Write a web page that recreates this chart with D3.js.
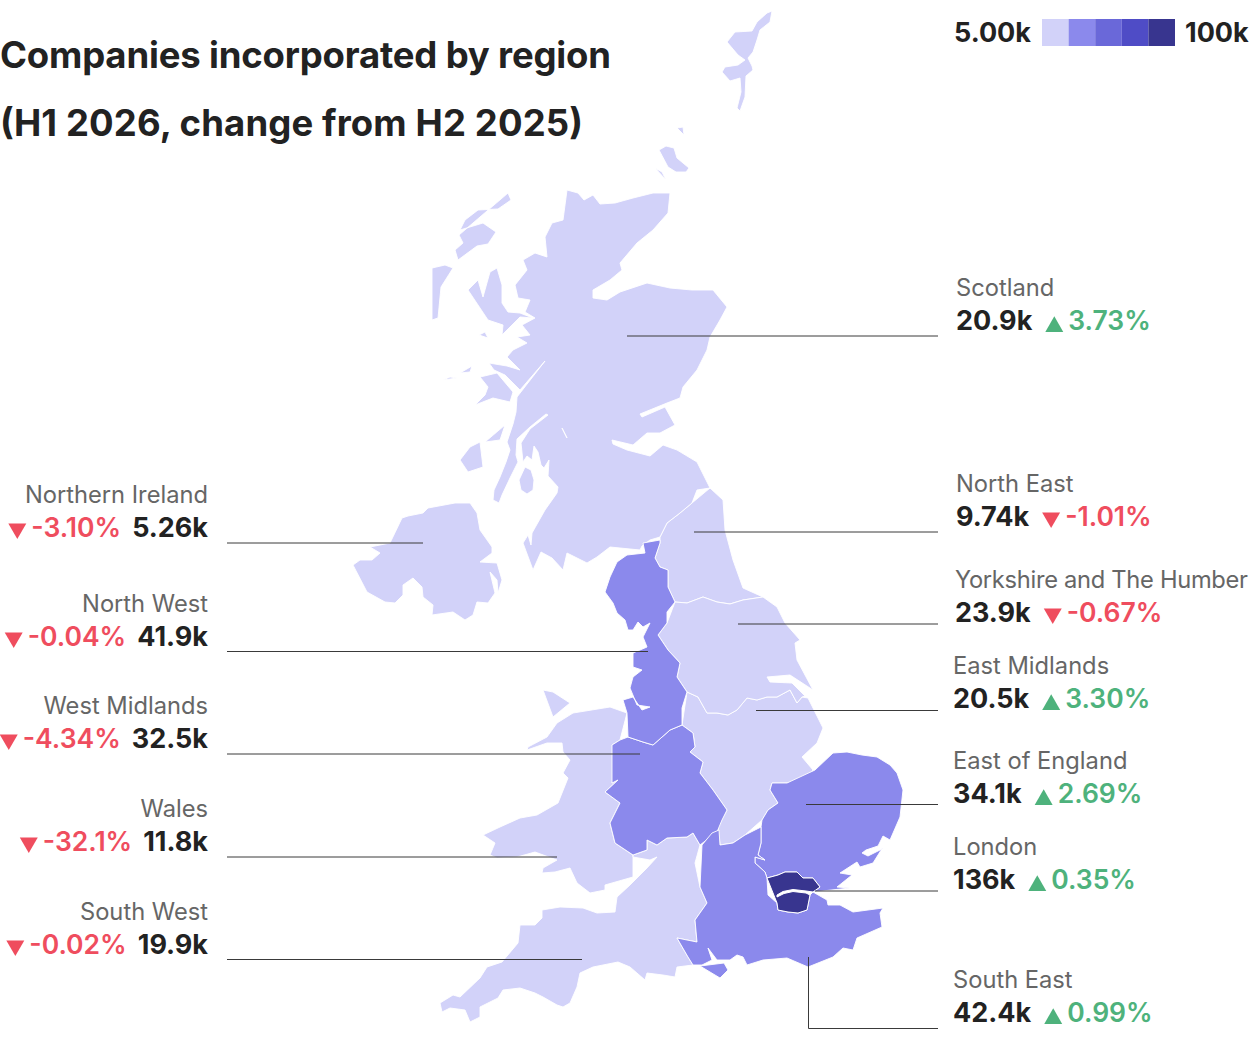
<!DOCTYPE html>
<html>
<head>
<meta charset="utf-8">
<script src="https://cdn.jsdelivr.net/npm/d3@7"></script>
<style>
  html, body { margin: 0; padding: 0; background: #fff; }
  svg { display: block; }
  text { font-family: Inter, "Noto Sans", sans-serif; }
</style>
</head>
<body>
<svg id="chart" width="1249" height="1038"></svg>
<script>
// Values
var regionNames = ['Scotland', 'North East', 'Yorkshire and The Humber', 'East Midlands', 'East of England', 'London', 'South East',
                   'Northern Ireland', 'North West', 'West Midlands', 'Wales', 'South West'];
var companies = [20900, 9740, 23900, 20500, 34100, 136000, 42400, 5260, 41900, 32500, 11800, 19900];
var changes = [3.73, -1.01, -0.67, 3.30, 2.69, 0.35, 0.99, -3.10, -0.04, -4.34, -32.1, -0.02];

var titleLines = ['Companies incorporated by region', '(H1 2026, change from H2 2025)'];
var titleWidths = [611, 583];
var legendDomain = [5000, 100000];
var palette = ['#d2d2f9', '#8b89ec', '#6a68d9', '#4f4cc6', '#38358f'];

// Label placement for each region, same order as regionNames
var labelSide = ['r', 'r', 'r', 'r', 'r', 'r', 'r', 'l', 'l', 'l', 'l', 'l'];
var labelX = [956, 956, 955, 953, 953, 953, 953, 208, 208, 208, 208, 208];
var labelY = [296, 492, 588, 674, 769, 855, 988, 503, 612, 714, 817, 920];
// leader lines as [x1, y1, x2, y2, ...]
var leaders = [
  [938, 336, 627, 336],
  [938, 532, 694, 532],
  [938, 624, 738, 624],
  [938, 710.5, 756, 710.5],
  [938, 804.5, 806, 804.5],
  [938, 891, 815, 891],
  [938, 1028.5, 808.5, 1028.5, 808.5, 957],
  [227, 543, 423, 543],
  [227, 651.5, 648, 651.5],
  [227, 754, 640, 754],
  [227, 857, 557, 857],
  [227, 959.5, 582, 959.5]
];

// Region outlines in map units, hand traced
var scotlandMain = [[567,190],[578,193],[584,200],[593,195],[600,204],[615,203],[633,198],[653,193],[670,193],[668,213],[653,230],[637,243],[620,263],[622,270],[610,280],[593,290],[593,298],[607,300],[620,292],[647,283],[670,288],[692,290],[713,290],[727,307],[720,320],[710,337],[707,350],[697,370],[683,387],[680,398],[667,403],[640,414],[642,417],[665,407],[675,425],[660,433],[647,433],[633,445],[612,440],[613,444],[627,450],[650,456],[663,445],[677,450],[697,462],[710,488],[697,490],[692,503],[680,513],[667,523],[660,537],[650,540],[642,546],[640,550],[610,547],[597,557],[587,563],[567,553],[563,570],[552,558],[541,552],[533,570],[523,543],[528,535],[531,545],[532,533],[545,510],[557,493],[558,487],[548,476],[549,460],[544,468],[541,465],[538,452],[534,446],[532,460],[527,456],[523,462],[521,443],[530,429],[548,415],[546,414],[530,427],[517,439],[516,455],[518,462],[510,478],[502,495],[499,503],[493,500],[494,490],[500,477],[506,462],[510,450],[507,442],[513,424],[516,412],[517,397],[545,361],[520,390],[505,375],[494,370],[489,363],[507,366],[520,370],[507,357],[513,350],[527,343],[517,337],[530,335],[522,325],[535,318],[525,312],[530,300],[518,298],[515,285],[527,270],[523,260],[535,253],[547,257],[545,237],[552,223],[563,220],[562,210]];
var lochLomond = [[562,428],[567,438],[563,438]];
var scotlandIslands = [
  [[525,467],[531,470],[534,480],[533,490],[527,494],[521,490],[519,480],[521,470]],
  [[468,290],[478,280],[483,297],[490,272],[497,268],[502,285],[502,303],[508,312],[520,313],[533,318],[520,317],[510,327],[502,335],[503,325],[488,320],[477,298]],
  [[480,377],[497,373],[513,392],[510,402],[493,398],[475,405],[485,395],[488,387],[482,383]],
  [[508,193],[511,200],[498,209],[478,210],[465,220],[460,230],[483,223],[496,232],[488,244],[477,246],[458,260],[455,250],[463,243],[459,235],[463,220]],
  [[432,268],[445,265],[453,268],[441,287],[438,318],[432,320],[432,297],[435,280]],
  [[443,380],[450,377],[457,378],[447,385]],
  [[460,373],[472,366],[470,372],[463,376]],
  [[479,335],[485,332],[488,338],[483,342]],
  [[460,460],[470,447],[480,442],[483,467],[468,472],[470,460]],
  [[485,442],[505,425],[500,440],[490,453]],
  [[476,427],[482,423],[478,431]],
  [[659,150],[666,146],[674,148],[677,158],[689,168],[686,172],[676,172],[668,167],[660,160]],
  [[655,168],[662,172],[666,180],[658,178]],
  [[677,128],[683,127],[684,135],[679,134]],
  [[695,138],[703,134],[699,142]],
  [[695,150],[699,147],[698,155]],
  [[674,143],[679,142],[678,147]],
  [[727,42],[735,32],[752,31],[757,22],[767,13],[772,11],[770,22],[760,30],[757,40],[753,52],[748,58],[752,66],[753,70],[746,76],[745,97],[740,111],[737,108],[741,92],[740,78],[730,81],[722,72],[725,67],[738,65],[745,60],[738,55],[733,47]],
  [[764,34],[770,35],[769,38]],
  [[757,63],[761,60],[758,66]],
  [[696,75],[699,75],[698,78]],
  [[723,129],[725,129],[724,132]]
];
var northEast = [[710,488],[723,500],[725,530],[733,560],[743,588],[763,597],[743,600],[730,604],[717,602],[703,597],[687,603],[675,602],[668,587],[668,570],[660,567],[655,558],[660,543],[660,537],[667,523],[680,513],[692,503],[697,490]];
var yorkshire = [[675,602],[687,603],[703,597],[717,602],[730,604],[743,600],[763,597],[777,607],[785,623],[800,640],[795,643],[797,660],[813,690],[790,675],[767,677],[770,682],[792,683],[805,696],[802,697],[797,703],[790,690],[777,697],[767,697],[757,700],[747,698],[737,710],[728,715],[717,713],[707,713],[698,697],[687,692],[677,677],[680,663],[668,650],[658,635],[667,623],[667,612]];
var northWest = [[643,543],[660,540],[660,543],[655,558],[660,567],[668,570],[668,587],[675,602],[667,612],[667,623],[658,635],[668,650],[680,663],[677,677],[687,692],[682,708],[682,725],[670,730],[653,745],[643,742],[628,737],[627,713],[623,700],[633,697],[642,710],[650,707],[637,705],[630,688],[633,677],[642,670],[633,667],[633,653],[647,647],[643,637],[650,623],[643,627],[638,622],[633,630],[628,630],[625,620],[617,613],[613,603],[605,592],[610,577],[617,562],[627,555],[645,553],[642,548]];
var eastMidlands = [[687,692],[698,697],[707,713],[717,713],[728,715],[737,710],[747,698],[757,700],[767,697],[777,697],[790,690],[797,703],[802,697],[808,698],[823,728],[817,743],[802,757],[813,770],[803,781],[787,783],[772,783],[770,790],[778,803],[768,810],[762,820],[745,835],[733,843],[720,845],[718,827],[727,810],[713,790],[700,773],[703,762],[690,752],[695,747],[693,733],[682,725],[682,708]];
var eastEngland = [[815,770],[833,753],[847,752],[862,755],[877,757],[890,765],[897,773],[903,790],[900,817],[890,840],[883,836],[878,846],[866,850],[862,853],[868,856],[880,850],[883,847],[873,863],[860,867],[857,862],[840,873],[852,875],[837,887],[850,888],[813,892],[820,887],[813,878],[803,878],[797,872],[785,872],[778,875],[767,878],[765,872],[755,863],[755,857],[765,860],[758,855],[761,843],[761,827],[762,820],[768,810],[778,803],[770,790],[772,783],[787,783],[803,781]];
var london = [[767,878],[778,875],[785,872],[797,872],[803,878],[813,878],[820,887],[813,892],[806,891],[793,889.5],[783,891.5],[777,895],[777,897],[784,893.5],[793,891.5],[806,893],[810,895],[807,910],[798,913],[788,912],[778,910],[777,903],[768,895]];
var southEast = [[702,845],[712,833],[719,830],[720,845],[733,843],[745,835],[761,827],[761,843],[758,855],[765,860],[755,857],[755,863],[765,872],[767,878],[768,895],[777,903],[778,910],[788,912],[798,913],[807,910],[810,895],[813,892],[827,900],[828,905],[840,905],[853,912],[883,908],[880,913],[882,927],[857,938],[853,950],[843,948],[833,957],[808,967],[787,958],[763,960],[747,965],[743,957],[737,955],[730,960],[717,960],[708,948],[712,960],[702,965],[693,965],[688,957],[677,938],[697,942],[695,920],[707,903],[700,887],[695,863]];
var sheppey = [[843,898],[853,903],[848,905]];
var isleOfWight = [[700,966],[724,963],[728,970],[720,978],[712,976]];
var westMidlands = [[612,745],[620,740],[628,737],[643,742],[653,745],[670,730],[682,725],[693,733],[695,747],[690,752],[703,762],[700,773],[713,790],[727,810],[722,820],[717,832],[700,845],[693,833],[687,837],[667,838],[657,845],[647,840],[647,850],[633,855],[615,843],[610,823],[620,803],[605,792],[618,780],[612,783],[622,763]];
var wales = [[627,713],[610,707],[573,713],[557,723],[547,737],[528,747],[527,750],[547,743],[562,743],[563,752],[570,760],[563,773],[568,778],[558,803],[537,815],[520,818],[500,827],[483,835],[495,843],[490,855],[497,858],[517,857],[535,852],[557,860],[543,868],[542,873],[555,872],[570,868],[577,883],[590,893],[605,890],[605,885],[633,877],[633,855],[615,843],[610,823],[620,803],[605,792],[618,780],[612,783],[622,763],[612,745],[620,740],[628,737]];
var anglesey = [[543,690],[553,692],[570,703],[553,717],[542,703]];
var southWest = [[633,857],[633,855],[647,850],[647,840],[657,845],[667,838],[687,837],[693,833],[700,845],[695,863],[700,887],[707,903],[695,920],[697,942],[677,938],[688,957],[693,965],[677,967],[675,977],[663,975],[647,973],[645,980],[630,967],[618,962],[593,967],[580,973],[577,987],[570,1003],[563,1007],[557,1005],[543,997],[535,993],[520,988],[503,990],[498,998],[480,1007],[480,1017],[470,1022],[465,1010],[450,1008],[442,1012],[440,1003],[453,995],[460,997],[480,978],[487,967],[502,962],[518,943],[520,925],[535,925],[542,918],[542,910],[560,907],[583,908],[597,913],[615,912],[617,897],[630,885],[647,868],[657,857],[650,860],[633,877]];
var northernIreland = [[353,565],[360,560],[372,560],[380,553],[370,547],[390,543],[402,518],[408,516],[423,513],[428,508],[455,503],[470,503],[477,513],[480,530],[492,547],[492,553],[480,562],[497,563],[502,580],[498,593],[497,580],[490,572],[495,593],[488,603],[477,602],[473,615],[465,620],[453,612],[432,615],[433,605],[423,597],[422,587],[413,578],[403,585],[403,595],[395,603],[385,602],[367,592],[365,583]];

// Polygons for each region, same order as regionNames
var outlines = [
  [[scotlandMain, lochLomond]].concat(scotlandIslands.map(d => [d])),
  [[northEast]],
  [[yorkshire]],
  [[eastMidlands]],
  [[eastEngland]],
  [[london]],
  [[southEast], [sheppey], [isleOfWight]],
  [[northernIreland]],
  [[northWest]],
  [[westMidlands]],
  [[wales], [anglesey]],
  [[southWest]]
];

var svg = d3.select('#chart');

var color = d3.scaleQuantize().domain(legendDomain).range(palette);
var fmtValue = d3.format('.3s');
var fmtChange = d => (Math.abs(d) >= 10 ? d.toFixed(1) : d.toFixed(2)) + '%';

var features = regionNames.map((name, i) => ({
    type: 'Feature',
    properties: { name: name, value: companies[i] },
    geometry: { type: 'MultiPolygon', coordinates: outlines[i] }
}));

var path = d3.geoPath(d3.geoIdentity());

// London goes last so its outline stays on top
svg.append('g')
    .selectAll('path')
    .data(features.slice().sort((a, b) => a.properties.value - b.properties.value))
    .enter()
    .append('path')
    .attr('d', path)
    .attr('fill', d => color(d.properties.value))
    .attr('fill-rule', 'evenodd')
    .attr('stroke', '#fff')
    .attr('stroke-width', d => d.properties.name === 'London' ? 1 : 0.9)
    .attr('stroke-linejoin', 'round');

// Leader lines
var line = d3.line().x(d => d[0]).y(d => d[1]);
svg.append('g')
    .selectAll('path')
    .data(leaders)
    .enter()
    .append('path')
    .attr('d', d => line(d3.range(0, d.length, 2).map(i => [d[i], d[i + 1]])))
    .attr('fill', 'none')
    .attr('stroke', '#3a3a3a')
    .attr('stroke-width', 1);

// Title
svg.append('g')
    .selectAll('text')
    .data(titleLines)
    .enter()
    .append('text')
    .attr('x', 0)
    .attr('y', (d, i) => 68 + i * 68)
    .attr('fill', '#222')
    .attr('textLength', (d, i) => titleWidths[i])
    .style('font-size', '36.5px')
    .style('font-weight', 700)
    .text(d => d);

// Legend
var legendX = d3.scaleBand().domain(palette).range([1042, 1175]);
svg.append('g')
    .selectAll('rect')
    .data(palette)
    .enter()
    .append('rect')
    .attr('x', d => legendX(d))
    .attr('y', 19)
    .attr('width', legendX.bandwidth())
    .attr('height', 27)
    .attr('fill', d => d);

svg.append('text').attr('x', 1031).attr('y', 42).attr('text-anchor', 'end')
    .attr('fill', '#222').style('font-size', '27px').style('font-weight', 700)
    .text(fmtValue(legendDomain[0]));
svg.append('text').attr('x', 1185).attr('y', 42)
    .attr('fill', '#222').style('font-size', '27px').style('font-weight', 700)
    .text(fmtValue(legendDomain[1]));

// Region labels: name on top, value and change underneath
regionNames.forEach((name, i) => {
    var right = labelSide[i] === 'r';
    var g = svg.append('g');
    var up = changes[i] >= 0;
    var col = up ? '#4eb27c' : '#ef4d5e';
    var base = labelY[i] + 33.7;

    var label = g.append('text')
        .attr('x', labelX[i])
        .attr('y', labelY[i])
        .attr('text-anchor', right ? 'start' : 'end')
        .attr('fill', '#666')
        .style('font-size', '23.7px')
        .text(name);
    // long name has to stay inside the page
    if (right && label.node().getComputedTextLength() > 1248 - labelX[i]) {
        label.attr('textLength', 1248 - labelX[i]);
    }

    var val = g.append('text')
        .attr('x', labelX[i])
        .attr('y', base)
        .attr('text-anchor', right ? 'start' : 'end')
        .attr('fill', '#222')
        .style('font-size', '27px')
        .style('font-weight', 700)
        .text(fmtValue(companies[i]));
    var valW = val.node().getComputedTextLength();

    var pct = g.append('text')
        .attr('y', base)
        .attr('fill', col)
        .style('font-size', '26.5px')
        .style('font-weight', 600)
        .text(fmtChange(changes[i]));
    var pctW = pct.node().getComputedTextLength();

    var pctX = right ? labelX[i] + valW + 36 : labelX[i] - valW - 11 - pctW;
    var triX = pctX - 14;
    pct.attr('x', pctX);

    g.append('path')
        .attr('d', d3.symbol().type(d3.symbolTriangle).size(140)())
        .attr('transform', `translate(${triX},${base + (up ? -3 : -8)}) rotate(${up ? 0 : 180})`)
        .attr('fill', col);
});
</script>
</body>
</html>
